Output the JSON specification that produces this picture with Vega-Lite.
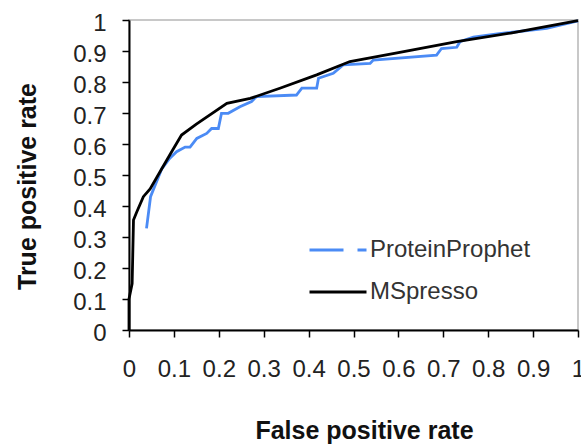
{
  "$schema": "https://vega.github.io/schema/vega-lite/v6.json",
  "width": 449,
  "height": 310,
  "autosize": "none",
  "padding": {"left": 129, "top": 20, "right": 3, "bottom": 114},
  "config": {
    "font": "Liberation Sans",
    "view": {"stroke": "#c8c8c8", "strokeWidth": 2},
    "axis": {
      "grid": false,
      "domainColor": "#000000",
      "domainWidth": 2,
      "tickColor": "#000000",
      "tickWidth": 1.5,
      "tickSize": 7,
      "labelFont": "Liberation Sans",
      "labelFontSize": 24,
      "labelColor": "#222222",
      "titleFont": "Liberation Sans",
      "titleFontSize": 25,
      "titleFontWeight": "bold",
      "titleColor": "#111111"
    },
    "legend": {
      "symbolType": "stroke",
      "symbolSize": 3249,
      "symbolStrokeWidth": 3,
      "labelFont": "Liberation Sans",
      "labelFontSize": 24,
      "labelColor": "#333333",
      "labelOffset": 2,
      "labelLimit": 0,
      "padding": 0,
      "rowPadding": 0
    }
  },
  "data": {
    "values": [
      {"method": "ProteinProphet", "i": 0, "fpr": 0.039, "tpr": 0.328},
      {"method": "ProteinProphet", "i": 1, "fpr": 0.048, "tpr": 0.43},
      {"method": "ProteinProphet", "i": 2, "fpr": 0.054, "tpr": 0.452},
      {"method": "ProteinProphet", "i": 3, "fpr": 0.073, "tpr": 0.52},
      {"method": "ProteinProphet", "i": 4, "fpr": 0.091, "tpr": 0.554},
      {"method": "ProteinProphet", "i": 5, "fpr": 0.106, "tpr": 0.575},
      {"method": "ProteinProphet", "i": 6, "fpr": 0.125, "tpr": 0.59},
      {"method": "ProteinProphet", "i": 7, "fpr": 0.136, "tpr": 0.59},
      {"method": "ProteinProphet", "i": 8, "fpr": 0.151, "tpr": 0.618},
      {"method": "ProteinProphet", "i": 9, "fpr": 0.173, "tpr": 0.634},
      {"method": "ProteinProphet", "i": 10, "fpr": 0.184, "tpr": 0.65},
      {"method": "ProteinProphet", "i": 11, "fpr": 0.199, "tpr": 0.65},
      {"method": "ProteinProphet", "i": 12, "fpr": 0.206, "tpr": 0.699},
      {"method": "ProteinProphet", "i": 13, "fpr": 0.221, "tpr": 0.699},
      {"method": "ProteinProphet", "i": 14, "fpr": 0.247, "tpr": 0.72},
      {"method": "ProteinProphet", "i": 15, "fpr": 0.273, "tpr": 0.737},
      {"method": "ProteinProphet", "i": 16, "fpr": 0.284, "tpr": 0.753},
      {"method": "ProteinProphet", "i": 17, "fpr": 0.373, "tpr": 0.758},
      {"method": "ProteinProphet", "i": 18, "fpr": 0.385, "tpr": 0.78},
      {"method": "ProteinProphet", "i": 19, "fpr": 0.418, "tpr": 0.78},
      {"method": "ProteinProphet", "i": 20, "fpr": 0.422, "tpr": 0.812},
      {"method": "ProteinProphet", "i": 21, "fpr": 0.455, "tpr": 0.828},
      {"method": "ProteinProphet", "i": 22, "fpr": 0.477, "tpr": 0.855},
      {"method": "ProteinProphet", "i": 23, "fpr": 0.537, "tpr": 0.86},
      {"method": "ProteinProphet", "i": 24, "fpr": 0.544, "tpr": 0.871},
      {"method": "ProteinProphet", "i": 25, "fpr": 0.685, "tpr": 0.887},
      {"method": "ProteinProphet", "i": 26, "fpr": 0.696, "tpr": 0.908},
      {"method": "ProteinProphet", "i": 27, "fpr": 0.73, "tpr": 0.912},
      {"method": "ProteinProphet", "i": 28, "fpr": 0.737, "tpr": 0.93},
      {"method": "ProteinProphet", "i": 29, "fpr": 0.767, "tpr": 0.945},
      {"method": "ProteinProphet", "i": 30, "fpr": 0.82, "tpr": 0.955},
      {"method": "ProteinProphet", "i": 31, "fpr": 0.93, "tpr": 0.973},
      {"method": "ProteinProphet", "i": 32, "fpr": 1.0, "tpr": 0.997},
      {"method": "MSpresso", "i": 0, "fpr": 0.0, "tpr": 0.0},
      {"method": "MSpresso", "i": 1, "fpr": 0.0, "tpr": 0.1},
      {"method": "MSpresso", "i": 2, "fpr": 0.007, "tpr": 0.15},
      {"method": "MSpresso", "i": 3, "fpr": 0.01, "tpr": 0.355},
      {"method": "MSpresso", "i": 4, "fpr": 0.017, "tpr": 0.38},
      {"method": "MSpresso", "i": 5, "fpr": 0.032, "tpr": 0.43},
      {"method": "MSpresso", "i": 6, "fpr": 0.047, "tpr": 0.455},
      {"method": "MSpresso", "i": 7, "fpr": 0.073, "tpr": 0.52},
      {"method": "MSpresso", "i": 8, "fpr": 0.095, "tpr": 0.575},
      {"method": "MSpresso", "i": 9, "fpr": 0.117, "tpr": 0.629},
      {"method": "MSpresso", "i": 10, "fpr": 0.15, "tpr": 0.664},
      {"method": "MSpresso", "i": 11, "fpr": 0.218, "tpr": 0.731},
      {"method": "MSpresso", "i": 12, "fpr": 0.27, "tpr": 0.747},
      {"method": "MSpresso", "i": 13, "fpr": 0.336, "tpr": 0.78},
      {"method": "MSpresso", "i": 14, "fpr": 0.418, "tpr": 0.823},
      {"method": "MSpresso", "i": 15, "fpr": 0.492, "tpr": 0.866},
      {"method": "MSpresso", "i": 16, "fpr": 0.6, "tpr": 0.895},
      {"method": "MSpresso", "i": 17, "fpr": 0.73, "tpr": 0.93},
      {"method": "MSpresso", "i": 18, "fpr": 0.85, "tpr": 0.958},
      {"method": "MSpresso", "i": 19, "fpr": 1.0, "tpr": 0.998}
    ]
  },
  "encoding": {
    "x": {
      "field": "fpr", "type": "quantitative",
      "scale": {"domain": [0, 1], "nice": false},
      "axis": {
        "title": "False positive rate",
        "values": [0, 0.1, 0.2, 0.3, 0.4, 0.5, 0.6, 0.7, 0.8, 0.9, 1],
        "format": "~g",
        "labelPadding": 20,
        "labelFlush": false,
        "labelOverlap": false,
        "titleX": 235,
        "titleY": 108,
        "titleBaseline": "alphabetic",
        "titleAnchor": null,
        "titleAlign": "center"
      }
    },
    "y": {
      "field": "tpr", "type": "quantitative",
      "scale": {"domain": [0, 1], "nice": false},
      "axis": {
        "title": "True positive rate",
        "values": [0, 0.1, 0.2, 0.3, 0.4, 0.5, 0.6, 0.7, 0.8, 0.9, 1],
        "format": "~g",
        "labelPadding": 16,
        "labelOffset": 3,
        "labelFlush": false,
        "labelOverlap": false,
        "titleX": -102,
        "titleY": 166,
        "titleAngle": 270,
        "titleAlign": "center",
        "titleBaseline": "middle",
        "titleAnchor": null
      }
    },
    "color": {
      "field": "method", "type": "nominal",
      "scale": {"domain": ["ProteinProphet", "MSpresso"], "range": ["#4b8bf5", "#000000"]},
      "legend": {
        "title": null,
        "orient": "none",
        "legendX": 179,
        "legendY": 200,
        "encode": {
          "symbols": {
            "update": {
              "strokeDash": {"signal": "datum.value === 'ProteinProphet' ? [34, 14, 9, 200] : [1, 0]"}
            }
          }
        }
      }
    },
    "order": {"field": "i", "type": "quantitative"}
  },
  "layer": [
    {
      "transform": [{"filter": "datum.method === 'ProteinProphet'"}],
      "mark": {"type": "line", "strokeWidth": 2.8}
    },
    {
      "transform": [{"filter": "datum.method === 'MSpresso'"}],
      "mark": {"type": "line", "strokeWidth": 2.8}
    }
  ]
}
